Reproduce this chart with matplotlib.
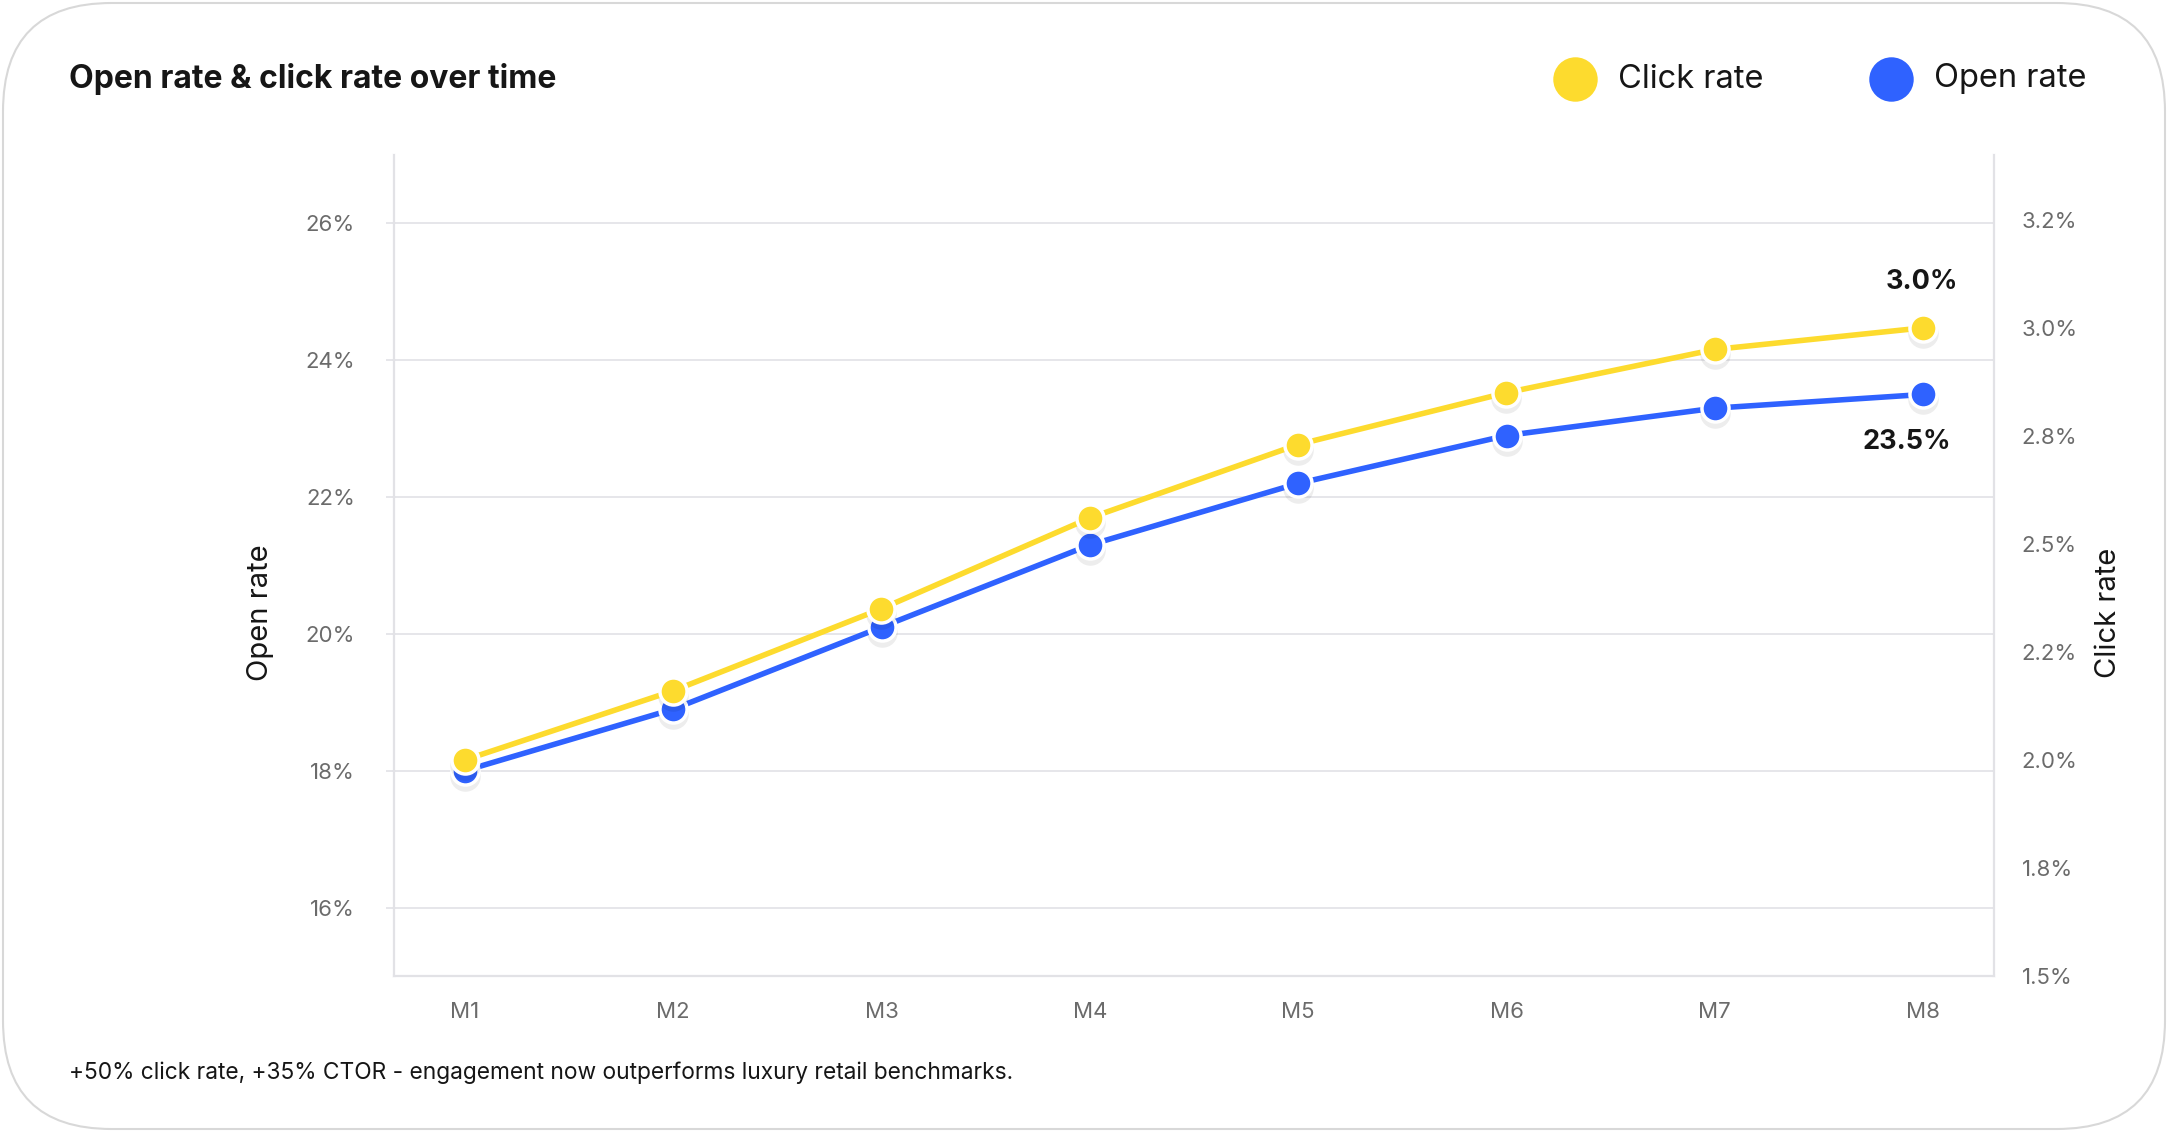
import matplotlib.pyplot as plt
import matplotlib.transforms as mtransforms
from matplotlib.lines import Line2D
from matplotlib.patches import FancyBboxPatch
from matplotlib.ticker import FixedLocator, FuncFormatter

plt.rcParams['font.family'] = ['Inter', 'DejaVu Sans']

months = ['M1', 'M2', 'M3', 'M4', 'M5', 'M6', 'M7', 'M8']
open_rate = [18.0, 18.9, 20.1, 21.3, 22.2, 22.9, 23.3, 23.5]
click_rate = [2.0, 2.16, 2.35, 2.56, 2.73, 2.85, 2.95, 3.0]
open_ticks = [16, 18, 20, 22, 24, 26]
click_ticks = [1.5, 1.75, 2.0, 2.25, 2.5, 2.75, 3.0, 3.25]

TITLE = "Open rate & click rate over time"
NOTE = "+50% click rate, +35% CTOR - engagement now outperforms luxury retail benchmarks."

YELLOW = '#FDDB2E'
BLUE = '#2F62FF'
GRID = '#e2e2e6'
TICK = '#6b6b6b'
INK = '#161616'

W, H = 2168, 1132
fig = plt.figure(figsize=(W / 100, H / 100), dpi=100)
fig.patch.set_facecolor('white')

# card outline (kept behind the axes)
card = FancyBboxPatch((3 / W, 3 / H), 1 - 6 / W, 1 - 6 / H,
                      boxstyle="round,pad=0,rounding_size=0.05",
                      transform=fig.transFigure, facecolor='white',
                      edgecolor='#d8d8d8', linewidth=1.5,
                      mutation_aspect=W / H, zorder=-10)
fig.add_artist(card)

ax = fig.add_axes([394 / W, 1 - 976 / H, (1994 - 394) / W, (976 - 155) / H])
ax.set_facecolor('none')
ax2 = ax.twinx()

x = list(range(len(months)))


def shadow(a, dy=-5):
    return a.transData + mtransforms.ScaledTranslation(0, dy / 100, fig.dpi_scale_trans)


# open rate (left axis)
ax.plot(x, open_rate, color='black', alpha=0.07, linestyle='none', marker='o',
        markersize=22, markeredgewidth=0, transform=shadow(ax), zorder=2)
ax.plot(x, open_rate, color=BLUE, linewidth=4, marker='o', markersize=19.5,
        markerfacecolor=BLUE, markeredgecolor='white', markeredgewidth=2.5,
        solid_capstyle='round', zorder=3)

# click rate (right axis)
ax2.plot(x, click_rate, color='black', alpha=0.07, linestyle='none', marker='o',
         markersize=22, markeredgewidth=0, transform=shadow(ax2), zorder=2)
ax2.plot(x, click_rate, color=YELLOW, linewidth=4, marker='o', markersize=19.5,
         markerfacecolor=YELLOW, markeredgecolor='white', markeredgewidth=2.5,
         solid_capstyle='round', zorder=3)

ax.set_xlim(-0.34, len(months) - 1 + 0.34)
ax.set_ylim(15, 27)
ax2.set_ylim(1.5, 3.4)

ax.set_xticks(x)
ax.set_xticklabels(months)
ax.yaxis.set_major_locator(FixedLocator(open_ticks))
ax.yaxis.set_major_formatter(FuncFormatter(lambda v, p: f"{v:.0f}%"))
ax2.yaxis.set_major_locator(FixedLocator(click_ticks))
ax2.yaxis.set_major_formatter(FuncFormatter(lambda v, p: f"{v:.1f}%"))

ax.grid(axis='y', color=GRID, linewidth=1.2)
ax.set_axisbelow(True)

for a in (ax, ax2):
    a.spines['top'].set_visible(False)
    for s in ('left', 'right', 'bottom'):
        a.spines[s].set_color(GRID)
        a.spines[s].set_linewidth(1.5)

ax.tick_params(axis='x', length=0, pad=19, labelsize=16, labelcolor=TICK)
ax.tick_params(axis='y', length=6, color=GRID, width=1.2, pad=22,
               labelsize=16, labelcolor=TICK)
ax2.tick_params(axis='y', length=0, pad=20, labelsize=16, labelcolor=TICK)

# end-point value labels
ax2.annotate(f"{click_rate[-1]:.1f}%", (x[-1], click_rate[-1]),
             xytext=(-1, 33), textcoords='offset points', ha='center',
             va='center', fontsize=19.5, fontweight='bold', color=INK)
ax.annotate(f"{open_rate[-1]:.1f}%", (x[-1], open_rate[-1]),
            xytext=(-12, -34), textcoords='offset points', ha='center',
            va='center', fontsize=19.5, fontweight='bold', color=INK)

# axis titles
fig.text(260 / W, 1 - 613 / H, "Open rate", rotation=90, ha='center',
         va='center', fontsize=21, color=INK)
fig.text(2109 / W, 1 - 613 / H, "Click rate", rotation=90, ha='center',
         va='center', fontsize=21, color=INK)

# title and footnote
fig.text(69 / W, 1 - 79 / H, TITLE, ha='left', va='center', fontsize=23,
         fontweight='bold', color=INK)
fig.text(69 / W, 1 - 1073 / H, NOTE, ha='left', va='center', fontsize=16.4,
         color=INK)

# legend
legend_items = [('Click rate', YELLOW, 1575), ('Open rate', BLUE, 1891)]
for label, color, cx in legend_items:
    fig.add_artist(Line2D([cx / W], [1 - 79 / H], marker='o', markersize=32,
                          color=color, markeredgewidth=0, linestyle='none',
                          transform=fig.transFigure))
    fig.text((cx + 43) / W, 1 - 79 / H, label, ha='left', va='center',
             fontsize=23.5, color=INK)

fig.savefig('out.png', dpi=100, facecolor='white')
